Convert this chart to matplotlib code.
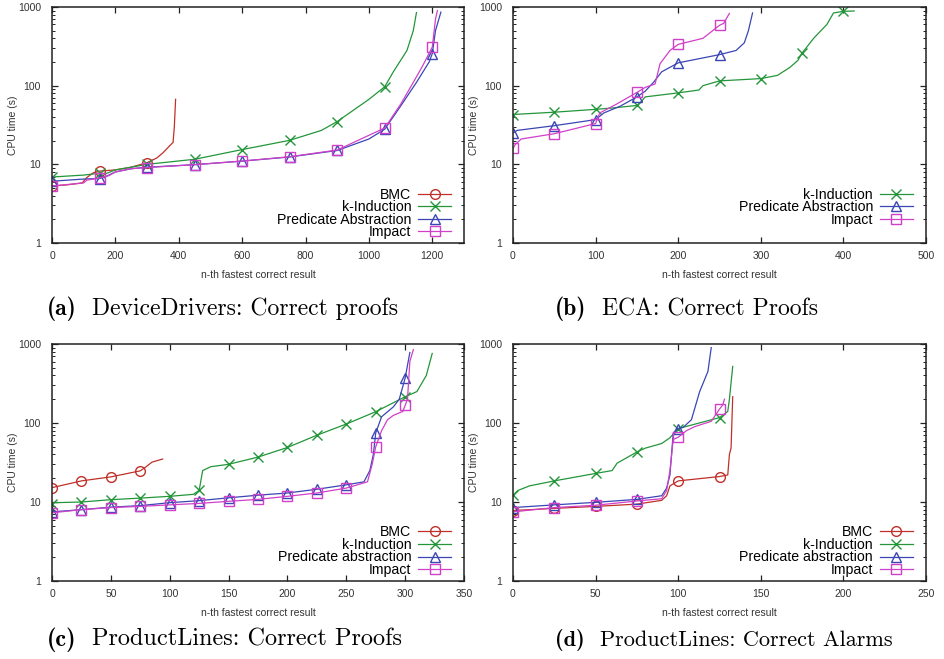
import matplotlib
matplotlib.use("Agg")
import matplotlib.pyplot as plt
from matplotlib.ticker import FixedLocator, FixedFormatter, NullLocator, LogLocator, MultipleLocator

plt.rcParams["font.family"] = ["Liberation Sans", "DejaVu Sans"]

# (a) DeviceDrivers: correct proofs
a_bmc_x = [0, 50, 95, 110, 130, 150, 200, 250, 300, 330, 350, 370, 382, 386, 390]
a_bmc_y = [5.3, 5.5, 5.8, 6.8, 7.8, 8.2, 8.5, 9.2, 10.5, 12, 14, 17, 19, 30, 67]
a_kind_x = [0, 100, 150, 170, 200, 250, 300, 450, 600, 750, 850, 900, 1000, 1050, 1077, 1120, 1140, 1150]
a_kind_y = [6.9, 7.3, 7.7, 7.6, 8.5, 9.2, 10, 11.6, 15.4, 20.2, 27, 35, 67, 97, 150, 280, 500, 850]
a_pa_x = [0, 100, 150, 170, 200, 250, 300, 450, 600, 750, 900, 1000, 1050, 1100, 1150, 1190, 1200, 1210, 1227]
a_pa_y = [6.1, 6.5, 6.6, 7.0, 8.0, 8.8, 9.2, 9.9, 11, 12.4, 15, 21, 28, 55, 110, 200, 256, 500, 860]
a_imp_x = [0, 100, 110, 150, 180, 200, 250, 300, 450, 600, 750, 900, 1050, 1100, 1140, 1170, 1200, 1210, 1216]
a_imp_y = [5.3, 5.8, 6.3, 6.7, 7.2, 8.0, 8.8, 9.1, 9.9, 11, 12.5, 15.2, 29, 58, 110, 180, 310, 700, 900]

# (b) ECA: correct proofs
b_kind_x = [0, 50, 100, 120, 150, 155, 160, 200, 225, 230, 250, 300, 320, 335, 345, 350, 364, 380, 388, 400, 413]
b_kind_y = [43, 46, 50, 52, 56, 62, 72, 81, 88, 100, 115, 123, 135, 170, 210, 260, 400, 600, 840, 880, 890]
b_pa_x = [0, 5, 50, 100, 110, 130, 150, 160, 170, 180, 200, 250, 270, 280, 285, 290]
b_pa_y = [25, 27, 31, 37, 45, 55, 72, 85, 110, 150, 195, 248, 280, 350, 500, 840]
b_imp_x = [0, 3, 10, 50, 100, 105, 125, 150, 160, 172, 178, 190, 200, 230, 250, 255, 262]
b_imp_y = [16, 18, 21, 24.5, 33, 45, 58, 82, 95, 105, 190, 280, 335, 400, 585, 620, 830]

# (c) ProductLines: correct proofs
c_bmc_x = [0, 25, 50, 75, 80, 85, 94]
c_bmc_y = [15.2, 18.5, 20.8, 24.8, 28, 32, 35]
c_kind_x = [0, 2, 25, 50, 75, 100, 120, 125, 128, 135, 150, 175, 200, 225, 250, 275, 300, 310, 318, 323]
c_kind_y = [9.5, 9.8, 10, 10.7, 11.2, 11.8, 12.5, 14, 25, 28, 30, 37, 49, 70, 97, 139, 215, 250, 400, 760]
c_pa_x = [0, 25, 50, 75, 100, 125, 150, 175, 200, 225, 250, 265, 270, 273, 275, 280, 290, 295, 300, 304]
c_pa_y = [7.5, 8.0, 8.6, 9.0, 9.8, 10.4, 11.3, 12.2, 13, 14.5, 16.5, 18, 25, 40, 75, 120, 160, 200, 370, 780]
c_imp_x = [0, 25, 50, 75, 100, 125, 150, 175, 200, 225, 250, 268, 272, 275, 280, 285, 290, 298, 300, 302, 304, 307]
c_imp_y = [7.3, 8.0, 8.5, 8.8, 9.2, 9.6, 10.2, 10.8, 11.8, 13, 15, 18, 30, 50, 80, 110, 125, 140, 167, 200, 600, 850]

# (d) ProductLines: correct alarms
d_bmc_x = [0, 25, 50, 75, 90, 93, 95, 100, 125, 130, 131, 132, 133]
d_bmc_y = [7.8, 8.3, 8.8, 9.4, 10.5, 12, 16, 18.5, 21, 22, 40, 48, 215]
d_kind_x = [0, 3, 10, 25, 50, 60, 63, 75, 80, 90, 95, 100, 125, 130, 131, 133]
d_kind_y = [12.2, 14, 16, 18.5, 23, 25, 31, 43, 48, 55, 65, 85, 117, 140, 200, 520]
d_pa_x = [0, 25, 50, 75, 90, 93, 95, 97, 100, 103, 108, 113, 118, 120]
d_pa_y = [8.5, 9.2, 9.9, 10.8, 12, 15, 22, 75, 85, 88, 110, 250, 450, 900]
d_imp_x = [0, 25, 50, 75, 90, 93, 95, 97, 100, 105, 110, 120, 125, 127, 128]
d_imp_y = [7.5, 8.5, 9.1, 10.3, 11, 14, 25, 62, 66, 80, 90, 105, 150, 170, 200]

y_ticks = [1, 10, 100, 1000]
y_labels = ["1", "10", "100", "1000"]

# series style: colour, marker
styles = {
    "bmc": ("#c0302a", "o"),
    "kind": ("#23963a", "x"),
    "pa": ("#3a46b4", "^"),
    "imp": ("#d040c8", "s"),
}

fig = plt.figure(figsize=(9.44, 6.59), dpi=100)
W, H = 944, 659


def make_axes(left, top, right, bottom):
    return fig.add_axes([left / W, 1 - bottom / H, (right - left) / W, (bottom - top) / H])


def draw_panel(ax, series, xmax, xstep, mstep, leg_top):
    for key, label, xs, ys in series:
        col, mk = styles[key]
        idx = [i for i, x in enumerate(xs) if x % mstep == 0]
        ax.plot(xs, ys, color=col, lw=0.9, marker=mk, markevery=idx, ms=7,
                mfc="none", mec=col, mew=1.0, label=label)
    ax.set_yscale("log")
    ax.set_ylim(1, 1000)
    ax.set_xlim(0, xmax)
    ax.xaxis.set_major_locator(MultipleLocator(xstep))
    ax.xaxis.set_minor_locator(NullLocator())
    ax.yaxis.set_major_locator(FixedLocator(y_ticks))
    ax.yaxis.set_major_formatter(FixedFormatter(y_labels))
    ax.yaxis.set_minor_locator(LogLocator(subs=range(2, 10)))
    ax.tick_params(which="both", direction="in", top=True, right=True, colors="#222",
                   labelcolor="#333", labelsize=7.5)
    ax.tick_params(which="major", length=4, width=0.9)
    ax.tick_params(which="minor", length=2, width=0.7)
    ax.tick_params(axis="y", pad=8)
    ax.tick_params(axis="x", pad=6)
    for s in ax.spines.values():
        s.set_color("#222")
        s.set_linewidth(1.1)
    ax.set_ylabel("CPU time (s)", fontsize=7.5, color="#333", labelpad=0)
    ax.set_xlabel("n-th fastest correct result", fontsize=7.5, color="#333", labelpad=6)
    leg = ax.legend(loc="upper right", bbox_to_anchor=(0.968, leg_top), frameon=False,
                    markerfirst=False, fontsize=10.2, handlelength=2.3, handletextpad=0.5,
                    labelspacing=-0.1, borderpad=0, borderaxespad=0)
    return leg


ax_a = make_axes(52, 7, 464, 243)
draw_panel(ax_a, [
    ("bmc", "BMC", a_bmc_x, a_bmc_y),
    ("kind", "k-Induction", a_kind_x, a_kind_y),
    ("pa", "Predicate Abstraction", a_pa_x, a_pa_y),
    ("imp", "Impact", a_imp_x, a_imp_y),
], 1300, 200, 150, 0.235)

ax_b = make_axes(513, 7, 926, 243)
draw_panel(ax_b, [
    ("kind", "k-Induction", b_kind_x, b_kind_y),
    ("pa", "Predicate Abstraction", b_pa_x, b_pa_y),
    ("imp", "Impact", b_imp_x, b_imp_y),
], 500, 100, 50, 0.235)

ax_c = make_axes(52, 344, 464, 581)
draw_panel(ax_c, [
    ("bmc", "BMC", c_bmc_x, c_bmc_y),
    ("kind", "k-Induction", c_kind_x, c_kind_y),
    ("pa", "Predicate abstraction", c_pa_x, c_pa_y),
    ("imp", "Impact", c_imp_x, c_imp_y),
], 350, 50, 25, 0.235)

ax_d = make_axes(513, 344, 926, 581)
draw_panel(ax_d, [
    ("bmc", "BMC", d_bmc_x, d_bmc_y),
    ("kind", "k-Induction", d_kind_x, d_kind_y),
    ("pa", "Predicate abstraction", d_pa_x, d_pa_y),
    ("imp", "Impact", d_imp_x, d_imp_y),
], 250, 50, 25, 0.235)

# captions (baseline positions in pixels)
captions = [
    (47, 92, 315, 17, "(a)", "DeviceDrivers: Correct proofs"),
    (555, 602, 315, 17, "(b)", "ECA: Correct Proofs"),
    (47, 92, 646, 17.5, "(c)", "ProductLines: Correct Proofs"),
    (555, 600, 646, 16, "(d)", "ProductLines: Correct Alarms"),
]
for x1, x2, y, fs, tag, txt in captions:
    fig.text(x1 / W, 1 - y / H, tag, fontfamily="cmb10", fontsize=fs, va="baseline", ha="left")
    fig.text(x2 / W, 1 - y / H, txt, fontfamily="cmr10", fontsize=fs, va="baseline", ha="left")

fig.savefig("out.png", dpi=100)
